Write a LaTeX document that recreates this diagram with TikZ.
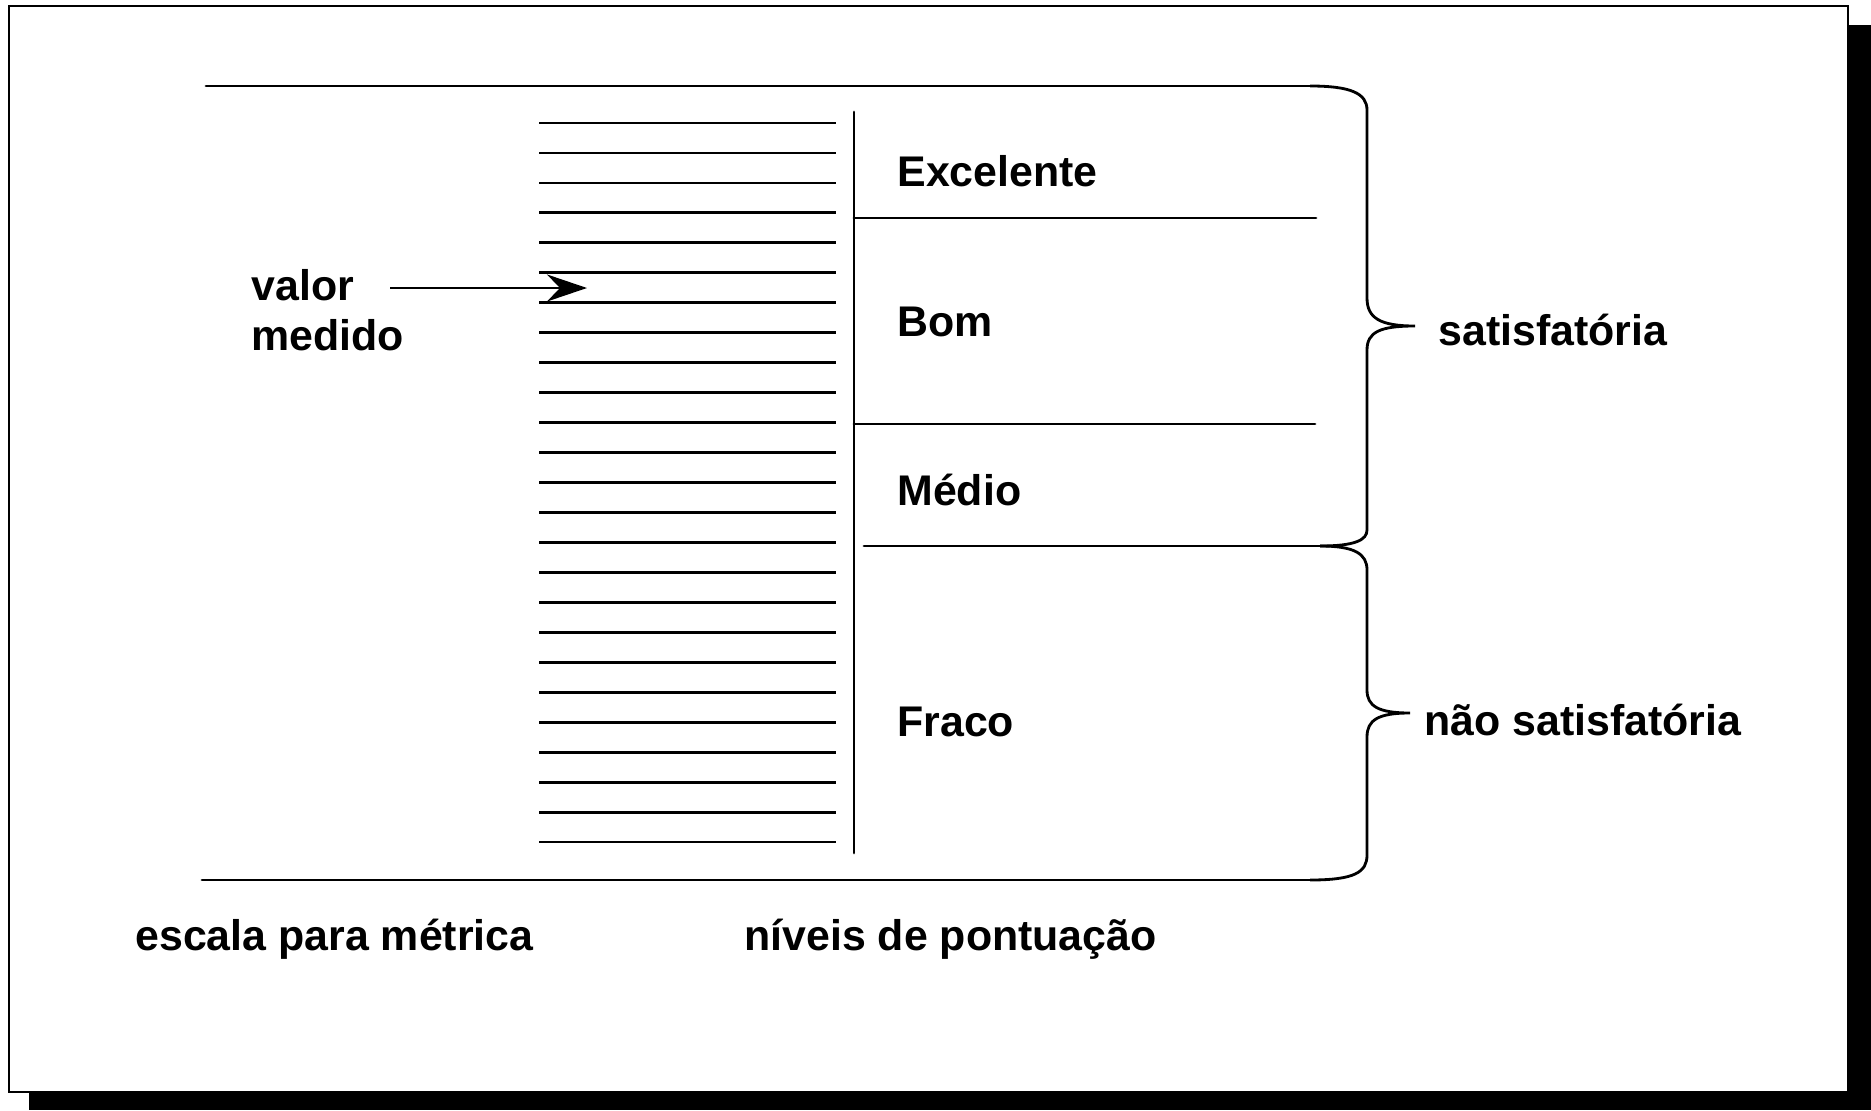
\documentclass[tikz,border=0pt]{standalone}
\usepackage{fontspec}
\usepackage{tkz-euclide}
\setmainfont{Liberation Sans}
\usetikzlibrary{arrows.meta}

\begin{document}
\begin{tikzpicture}[line width=0.8pt, lbl/.style={anchor=base west, inner sep=0pt, font=\fontsize{12.2}{14.5}\selectfont\bfseries}]
    \useasboundingbox (0,0) rectangle (18.71,11.10);
    \fill (0.29,0) rectangle (18.71,10.85);
    \draw[fill=white] (0.09,0.18) rectangle (18.48,11.04);
    \tkzDefPoints{2.06/10.24/A, 13.10/10.24/B, 2.02/2.30/C, 13.10/2.30/D, 8.54/9.98/V, 8.54/2.57/W}
    \tkzDefPoints{8.54/8.92/P, 13.16/8.92/Q, 8.54/6.86/R, 13.15/6.86/S, 8.64/5.64/M, 13.20/5.64/N}
    \tkzDefPoints{14.15/7.84/T, 14.10/3.97/U, 3.90/8.22/E, 5.87/8.22/F}
    \tkzDrawSegments[line width=0.8pt](A,B C,D V,W P,Q R,S M,N)
    \foreach \i in {0,...,24}{
        \draw (5.39,9.87-0.2996*\i) -- (8.36,9.87-0.2996*\i);
    }
    \draw (B) .. controls (13.50,10.24) and (13.67,10.17) .. (13.67,10.00) -- (13.67,8.12)
        .. controls (13.67,7.92) and (13.80,7.84) .. (T)
        .. controls (13.80,7.84) and (13.67,7.78) .. (13.67,7.60) -- (13.67,5.80)
        .. controls (13.67,5.70) and (13.55,5.64) .. (N);
    \draw (N) .. controls (13.55,5.64) and (13.67,5.56) .. (13.67,5.40) -- (13.67,4.20)
        .. controls (13.67,4.04) and (13.78,3.97) .. (U)
        .. controls (13.78,3.97) and (13.67,3.90) .. (13.67,3.73) -- (13.67,2.55)
        .. controls (13.67,2.38) and (13.55,2.30) .. (D);
    \draw[-{Stealth[length=0.40cm,width=0.27cm]}] (E) -- (F);
    \node[lbl] (exc) at (8.96,9.24) {Excelente};
    \node[lbl] (bom) at (8.96,7.74) {Bom};
    \node[lbl] (med) at (8.96,6.05) {Médio};
    \node[lbl] (fra) at (8.96,3.74) {Fraco};
    \node[lbl] (val) at (2.50,8.10) {valor};
    \node[lbl] (vmd) at (2.50,7.60) {medido};
    \node[lbl] (sat) at (14.37,7.65) {satisfatória};
    \node[lbl] (nsat) at (14.23,3.75) {não satisfatória};
    \node[lbl] (esc) at (1.34,1.60) {escala para métrica};
    \node[lbl] (niv) at (7.43,1.60) {níveis de pontuação};
\end{tikzpicture}
\end{document}
